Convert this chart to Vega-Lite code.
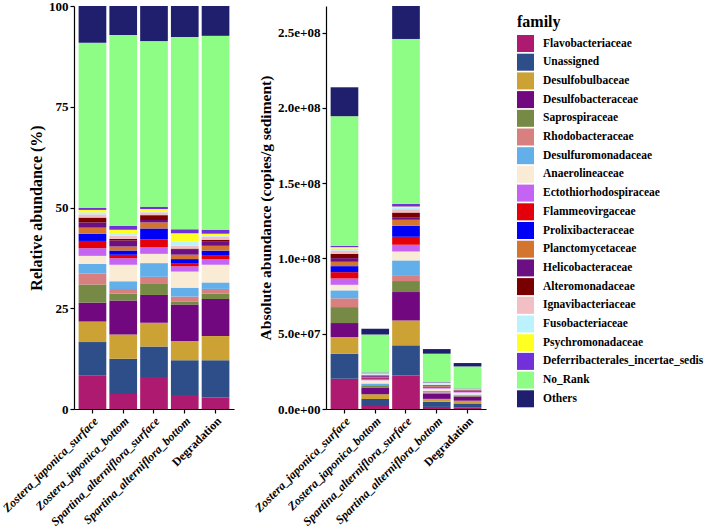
{
  "$schema": "https://vega.github.io/schema/vega-lite/v6.json",
  "background": "white",
  "padding": {"left": 0, "top": 0, "right": 0, "bottom": 0},
  "config": {
    "font": "Liberation Serif",
    "view": {"stroke": null},
    "axis": {"grid": false, "domainColor": "black", "tickColor": "black", "labelColor": "black", "titleColor": "black", "labelFontWeight": "bold", "titleFontWeight": "bold", "labelFontSize": 13, "titleFontSize": 16, "tickSize": 4, "labelPadding": 2, "domainWidth": 1.2, "tickWidth": 1.2},
    "legend": {"labelFont": "Liberation Serif", "titleFont": "Liberation Serif"}
  },
  "datasets": {
    "d": [
      {"s":"Zostera_japonica_surface","f":"Flavobacteriaceae","k":1,"r":8.4,"a":20.1},
      {"s":"Zostera_japonica_surface","f":"Unassigned","k":2,"r":8.2,"a":16.6},
      {"s":"Zostera_japonica_surface","f":"Desulfobulbaceae","k":3,"r":5.1,"a":11.1},
      {"s":"Zostera_japonica_surface","f":"Desulfobacteraceae","k":4,"r":4.7,"a":9.3},
      {"s":"Zostera_japonica_surface","f":"Saprospiraceae","k":5,"r":4.5,"a":10.6},
      {"s":"Zostera_japonica_surface","f":"Rhodobacteraceae","k":6,"r":2.7,"a":5.8},
      {"s":"Zostera_japonica_surface","f":"Desulfuromonadaceae","k":7,"r":2.4,"a":5.3},
      {"s":"Zostera_japonica_surface","f":"Anaerolineaceae","k":8,"r":2.0,"a":3.7},
      {"s":"Zostera_japonica_surface","f":"Ectothiorhodospiraceae","k":9,"r":1.9,"a":4.2},
      {"s":"Zostera_japonica_surface","f":"Flammeovirgaceae","k":10,"r":1.8,"a":4.2},
      {"s":"Zostera_japonica_surface","f":"Prolixibacteraceae","k":11,"r":1.8,"a":4.0},
      {"s":"Zostera_japonica_surface","f":"Planctomycetaceae","k":12,"r":1.5,"a":2.9},
      {"s":"Zostera_japonica_surface","f":"Helicobacteraceae","k":13,"r":1.3,"a":2.4},
      {"s":"Zostera_japonica_surface","f":"Alteromonadaceae","k":14,"r":1.2,"a":2.9},
      {"s":"Zostera_japonica_surface","f":"Ignavibacteriaceae","k":15,"r":0.8,"a":2.2},
      {"s":"Zostera_japonica_surface","f":"Fusobacteriaceae","k":16,"r":0.5,"a":1.3},
      {"s":"Zostera_japonica_surface","f":"Psychromonadaceae","k":17,"r":0.6,"a":0.9},
      {"s":"Zostera_japonica_surface","f":"Deferribacterales_incertae_sedis","k":18,"r":0.5,"a":0.9},
      {"s":"Zostera_japonica_surface","f":"No_Rank","k":19,"r":41.0,"a":86.1},
      {"s":"Zostera_japonica_surface","f":"Others","k":20,"r":9.1,"a":19.2},

      {"s":"Zostera_japonica_bottom","f":"Flavobacteriaceae","k":1,"r":3.7,"a":1.97},
      {"s":"Zostera_japonica_bottom","f":"Unassigned","k":2,"r":8.8,"a":4.69},
      {"s":"Zostera_japonica_bottom","f":"Desulfobulbaceae","k":3,"r":6.0,"a":3.2},
      {"s":"Zostera_japonica_bottom","f":"Desulfobacteraceae","k":4,"r":8.4,"a":4.48},
      {"s":"Zostera_japonica_bottom","f":"Saprospiraceae","k":5,"r":1.7,"a":0.91},
      {"s":"Zostera_japonica_bottom","f":"Rhodobacteraceae","k":6,"r":1.2,"a":0.64},
      {"s":"Zostera_japonica_bottom","f":"Desulfuromonadaceae","k":7,"r":1.9,"a":1.01},
      {"s":"Zostera_japonica_bottom","f":"Anaerolineaceae","k":8,"r":4.1,"a":2.19},
      {"s":"Zostera_japonica_bottom","f":"Ectothiorhodospiraceae","k":9,"r":1.6,"a":0.85},
      {"s":"Zostera_japonica_bottom","f":"Flammeovirgaceae","k":10,"r":0.9,"a":0.48},
      {"s":"Zostera_japonica_bottom","f":"Prolixibacteraceae","k":11,"r":1.0,"a":0.53},
      {"s":"Zostera_japonica_bottom","f":"Planctomycetaceae","k":12,"r":1.0,"a":0.53},
      {"s":"Zostera_japonica_bottom","f":"Helicobacteraceae","k":13,"r":1.5,"a":0.8},
      {"s":"Zostera_japonica_bottom","f":"Alteromonadaceae","k":14,"r":0.4,"a":0.21},
      {"s":"Zostera_japonica_bottom","f":"Ignavibacteriaceae","k":15,"r":0.8,"a":0.43},
      {"s":"Zostera_japonica_bottom","f":"Fusobacteriaceae","k":16,"r":0.6,"a":0.32},
      {"s":"Zostera_japonica_bottom","f":"Psychromonadaceae","k":17,"r":0.9,"a":0.48},
      {"s":"Zostera_japonica_bottom","f":"Deferribacterales_incertae_sedis","k":18,"r":1.0,"a":0.53},
      {"s":"Zostera_japonica_bottom","f":"No_Rank","k":19,"r":47.3,"a":25.21},
      {"s":"Zostera_japonica_bottom","f":"Others","k":20,"r":7.2,"a":3.84},

      {"s":"Spartina_alterniflora_surface","f":"Flavobacteriaceae","k":1,"r":7.7,"a":22.3},
      {"s":"Spartina_alterniflora_surface","f":"Unassigned","k":2,"r":7.8,"a":20.0},
      {"s":"Spartina_alterniflora_surface","f":"Desulfobulbaceae","k":3,"r":5.9,"a":16.5},
      {"s":"Spartina_alterniflora_surface","f":"Desulfobacteraceae","k":4,"r":6.9,"a":18.9},
      {"s":"Spartina_alterniflora_surface","f":"Saprospiraceae","k":5,"r":2.9,"a":7.3},
      {"s":"Spartina_alterniflora_surface","f":"Rhodobacteraceae","k":6,"r":1.6,"a":3.9},
      {"s":"Spartina_alterniflora_surface","f":"Desulfuromonadaceae","k":7,"r":3.4,"a":9.8},
      {"s":"Spartina_alterniflora_surface","f":"Anaerolineaceae","k":8,"r":2.3,"a":5.9},
      {"s":"Spartina_alterniflora_surface","f":"Ectothiorhodospiraceae","k":9,"r":1.7,"a":4.5},
      {"s":"Spartina_alterniflora_surface","f":"Flammeovirgaceae","k":10,"r":1.9,"a":5.3},
      {"s":"Spartina_alterniflora_surface","f":"Prolixibacteraceae","k":11,"r":2.7,"a":7.3},
      {"s":"Spartina_alterniflora_surface","f":"Planctomycetaceae","k":12,"r":1.5,"a":4.0},
      {"s":"Spartina_alterniflora_surface","f":"Helicobacteraceae","k":13,"r":0.6,"a":1.7},
      {"s":"Spartina_alterniflora_surface","f":"Alteromonadaceae","k":14,"r":1.2,"a":3.1},
      {"s":"Spartina_alterniflora_surface","f":"Ignavibacteriaceae","k":15,"r":0.7,"a":2.2},
      {"s":"Spartina_alterniflora_surface","f":"Fusobacteriaceae","k":16,"r":0.3,"a":0.9},
      {"s":"Spartina_alterniflora_surface","f":"Psychromonadaceae","k":17,"r":0.5,"a":0.9},
      {"s":"Spartina_alterniflora_surface","f":"Deferribacterales_incertae_sedis","k":18,"r":0.6,"a":1.8},
      {"s":"Spartina_alterniflora_surface","f":"No_Rank","k":19,"r":41.1,"a":109.5},
      {"s":"Spartina_alterniflora_surface","f":"Others","k":20,"r":8.7,"a":21.9},

      {"s":"Spartina_alterniflora_bottom","f":"Flavobacteriaceae","k":1,"r":3.5,"a":1.39},
      {"s":"Spartina_alterniflora_bottom","f":"Unassigned","k":2,"r":8.6,"a":3.42},
      {"s":"Spartina_alterniflora_bottom","f":"Desulfobulbaceae","k":3,"r":4.8,"a":1.91},
      {"s":"Spartina_alterniflora_bottom","f":"Desulfobacteraceae","k":4,"r":9.0,"a":3.58},
      {"s":"Spartina_alterniflora_bottom","f":"Saprospiraceae","k":5,"r":0.8,"a":0.32},
      {"s":"Spartina_alterniflora_bottom","f":"Rhodobacteraceae","k":6,"r":1.2,"a":0.48},
      {"s":"Spartina_alterniflora_bottom","f":"Desulfuromonadaceae","k":7,"r":2.2,"a":0.88},
      {"s":"Spartina_alterniflora_bottom","f":"Anaerolineaceae","k":8,"r":4.0,"a":1.59},
      {"s":"Spartina_alterniflora_bottom","f":"Ectothiorhodospiraceae","k":9,"r":1.3,"a":0.52},
      {"s":"Spartina_alterniflora_bottom","f":"Flammeovirgaceae","k":10,"r":0.8,"a":0.32},
      {"s":"Spartina_alterniflora_bottom","f":"Prolixibacteraceae","k":11,"r":1.0,"a":0.4},
      {"s":"Spartina_alterniflora_bottom","f":"Planctomycetaceae","k":12,"r":1.1,"a":0.44},
      {"s":"Spartina_alterniflora_bottom","f":"Helicobacteraceae","k":13,"r":1.2,"a":0.48},
      {"s":"Spartina_alterniflora_bottom","f":"Alteromonadaceae","k":14,"r":0.3,"a":0.12},
      {"s":"Spartina_alterniflora_bottom","f":"Ignavibacteriaceae","k":15,"r":0.7,"a":0.28},
      {"s":"Spartina_alterniflora_bottom","f":"Fusobacteriaceae","k":16,"r":1.1,"a":0.44},
      {"s":"Spartina_alterniflora_bottom","f":"Psychromonadaceae","k":17,"r":2.0,"a":0.8},
      {"s":"Spartina_alterniflora_bottom","f":"Deferribacterales_incertae_sedis","k":18,"r":1.0,"a":0.4},
      {"s":"Spartina_alterniflora_bottom","f":"No_Rank","k":19,"r":47.7,"a":18.98},
      {"s":"Spartina_alterniflora_bottom","f":"Others","k":20,"r":7.7,"a":3.06},

      {"s":"Degradation","f":"Flavobacteriaceae","k":1,"r":2.9,"a":0.88},
      {"s":"Degradation","f":"Unassigned","k":2,"r":9.2,"a":2.81},
      {"s":"Degradation","f":"Desulfobulbaceae","k":3,"r":6.0,"a":1.83},
      {"s":"Degradation","f":"Desulfobacteraceae","k":4,"r":9.2,"a":2.81},
      {"s":"Degradation","f":"Saprospiraceae","k":5,"r":1.3,"a":0.4},
      {"s":"Degradation","f":"Rhodobacteraceae","k":6,"r":1.2,"a":0.37},
      {"s":"Degradation","f":"Desulfuromonadaceae","k":7,"r":1.6,"a":0.49},
      {"s":"Degradation","f":"Anaerolineaceae","k":8,"r":4.4,"a":1.34},
      {"s":"Degradation","f":"Ectothiorhodospiraceae","k":9,"r":1.4,"a":0.43},
      {"s":"Degradation","f":"Flammeovirgaceae","k":10,"r":1.0,"a":0.31},
      {"s":"Degradation","f":"Prolixibacteraceae","k":11,"r":1.1,"a":0.34},
      {"s":"Degradation","f":"Planctomycetaceae","k":12,"r":1.2,"a":0.37},
      {"s":"Degradation","f":"Helicobacteraceae","k":13,"r":1.0,"a":0.31},
      {"s":"Degradation","f":"Alteromonadaceae","k":14,"r":0.5,"a":0.15},
      {"s":"Degradation","f":"Ignavibacteriaceae","k":15,"r":0.8,"a":0.24},
      {"s":"Degradation","f":"Fusobacteriaceae","k":16,"r":0.3,"a":0.09},
      {"s":"Degradation","f":"Psychromonadaceae","k":17,"r":0.4,"a":0.12},
      {"s":"Degradation","f":"Deferribacterales_incertae_sedis","k":18,"r":1.0,"a":0.31},
      {"s":"Degradation","f":"No_Rank","k":19,"r":48.1,"a":14.67},
      {"s":"Degradation","f":"Others","k":20,"r":7.4,"a":2.26}
    ]
  },
  "data": {"name": "d"},
  "spacing": 18,
  "resolve": {"scale": {"color": "shared"}},
  "hconcat": [
    {
      "width": 160,
      "height": 403,
      "mark": {"type": "bar"},
      "encoding": {
        "x": {"field": "s", "type": "nominal", "sort": ["Zostera_japonica_surface","Zostera_japonica_bottom","Spartina_alterniflora_surface","Spartina_alterniflora_bottom","Degradation"],
              "scale": {"paddingInner": 0.1, "paddingOuter": 0.15},
              "axis": {"title": null, "labelAngle": -45, "labelPadding": 2, "labelFontSize": 12,
                       "labelFontStyle": {"condition": {"test": "datum.value == 'Degradation'", "value": "normal"}, "value": "italic"}}},
        "y": {"field": "r", "type": "quantitative", "stack": true, "scale": {"domain": [0, 100], "nice": false},
              "axis": {"values": [0, 25, 50, 75, 100], "title": "Relative abundance (%)", "titlePadding": 4}},
        "color": {"field": "f", "type": "nominal", "title": "family",
                  "scale": {"domain": ["Flavobacteriaceae","Unassigned","Desulfobulbaceae","Desulfobacteraceae","Saprospiraceae","Rhodobacteraceae","Desulfuromonadaceae","Anaerolineaceae","Ectothiorhodospiraceae","Flammeovirgaceae","Prolixibacteraceae","Planctomycetaceae","Helicobacteraceae","Alteromonadaceae","Ignavibacteriaceae","Fusobacteriaceae","Psychromonadaceae","Deferribacterales_incertae_sedis","No_Rank","Others"],
                            "range": ["#AE1A6F","#2E4E89","#CCA235","#72087F","#778A45","#D88080","#62AFEA","#FAEBD5","#C564F2","#E3000B","#0000F5","#D4752F","#6B0F82","#7A0000","#F1BFC4","#BCF2FE","#FFFF22","#7230DB","#8EFD86","#1F1F6E"]},
                  "legend": {"orient": "right", "offset": 23, "padding": 8, "symbolType": "square", "symbolSize": 289, "symbolStrokeWidth": 0, "symbolOpacity": 1, "rowPadding": 1.7, "labelFontSize": 11.5, "labelFontWeight": "bold", "labelOffset": 9, "labelColor": "black", "labelLimit": 250, "titleFontSize": 16, "titleFontWeight": "bold", "titleColor": "black", "titlePadding": 5}},
        "order": {"field": "k", "type": "quantitative", "sort": "ascending"}
      }
    },
    {
      "width": 160,
      "height": 403,
      "mark": {"type": "bar"},
      "encoding": {
        "x": {"field": "s", "type": "nominal", "sort": ["Zostera_japonica_surface","Zostera_japonica_bottom","Spartina_alterniflora_surface","Spartina_alterniflora_bottom","Degradation"],
              "scale": {"paddingInner": 0.1, "paddingOuter": 0.15},
              "axis": {"title": null, "labelAngle": -45, "labelPadding": 2, "labelFontSize": 12,
                       "labelFontStyle": {"condition": {"test": "datum.value == 'Degradation'", "value": "normal"}, "value": "italic"}}},
        "y": {"field": "a", "type": "quantitative", "stack": true, "scale": {"domain": [0, 267.7], "nice": false},
              "axis": {"values": [0, 50, 100, 150, 200, 250], "labelExpr": "replace(format(datum.value * 1000000, '.1e'), 'e+', 'e+0')", "title": "Absolute abundance (copies/g sediment)", "titleFontSize": 15.5, "titlePadding": 4}},
        "color": {"field": "f", "type": "nominal"},
        "order": {"field": "k", "type": "quantitative", "sort": "ascending"}
      }
    }
  ]
}
